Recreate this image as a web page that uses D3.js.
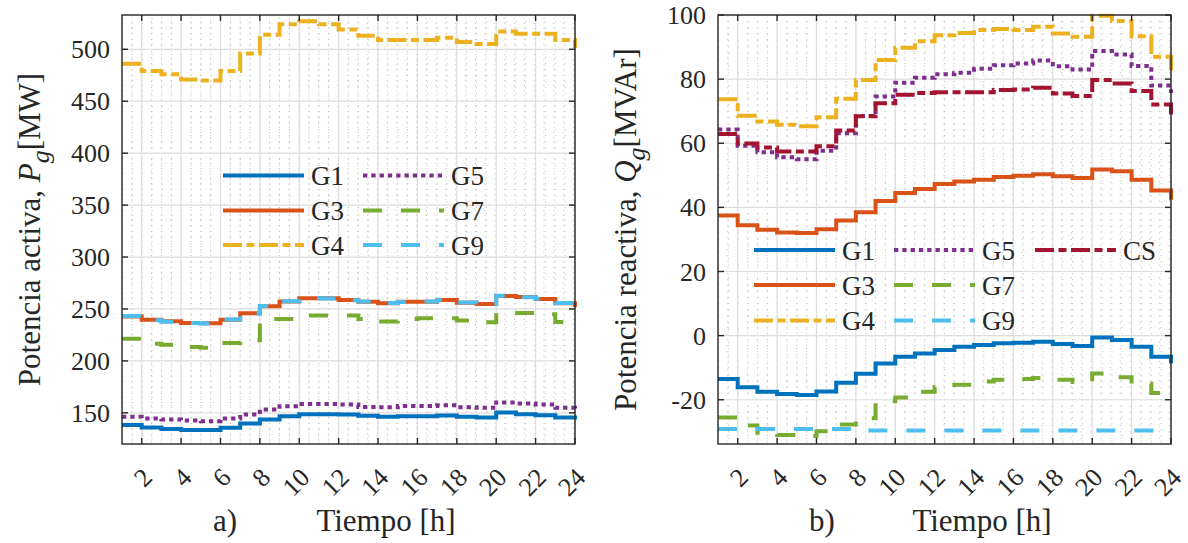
<!DOCTYPE html>
<html>
<head>
<meta charset="utf-8">
<script src="https://cdn.jsdelivr.net/npm/d3@7/dist/d3.min.js"></script>
<style>
  body { margin: 0; background: #ffffff; }
  svg { display: block; }
</style>
</head>
<body>
<svg id="chart" width="1188" height="543"></svg>
<script>
// Hours of the day (stairs are drawn from each hour to the next)
const hours = [1, 2, 3, 4, 5, 6, 7, 8, 9, 10, 11, 12, 13, 14, 15, 16, 17, 18, 19, 20, 21, 22, 23, 24];
const xTicks = [2, 4, 6, 8, 10, 12, 14, 16, 18, 20, 22, 24];

// Active power P_g [MW]
const pG1 = [138.2, 136.0, 134.4, 133.4, 133.4, 135.7, 139.8, 143.6, 146.8, 148.7, 148.7, 148.4, 147.1, 146.2, 146.8, 146.8, 147.5, 146.2, 145.5, 150.3, 148.7, 147.7, 145.5, 143.5];
const pG3 = [242.7, 239.5, 238.2, 236.6, 236.3, 239.5, 245.9, 252.5, 257.3, 260.2, 260.2, 258.6, 257.0, 255.4, 257.0, 257.0, 258.6, 256.0, 254.8, 262.5, 261.5, 259.7, 255.5, 252.0];
const pG4 = [486, 479, 476, 471, 470, 479, 496, 514, 524, 527, 524, 519, 513, 509, 509, 509, 511, 507, 505, 517, 515, 515, 509, 501];
const pG5 = [146.2, 144.6, 143.6, 142.7, 142.0, 144.6, 148.4, 153.2, 156.4, 158.6, 158.6, 158.0, 155.7, 155.4, 156.7, 156.7, 157.3, 155.4, 154.8, 160.0, 159.0, 158.0, 154.8, 153.5];
const pG7 = [221.3, 216.5, 215.6, 213.4, 212.7, 217.2, 220.0, 240.4, 240.4, 243.6, 243.6, 243.6, 240.4, 238.0, 240.4, 241.0, 241.0, 239.0, 237.3, 246.0, 246.0, 245.0, 237.5, 237.0];
const pG9 = [243.2, 239.2, 237.8, 236.4, 236.0, 239.8, 245.5, 252.8, 257.5, 260.5, 260.0, 258.3, 257.2, 255.7, 256.8, 257.2, 258.8, 256.3, 254.5, 262.8, 261.2, 259.8, 255.7, 252.3];
const pTicks = [150, 200, 250, 300, 350, 400, 450, 500];

// Reactive power Q_g [MVAr]
const qG1 = [-13.5, -16.1, -17.5, -18.2, -18.5, -17.4, -14.7, -11.9, -8.7, -6.6, -5.6, -4.5, -3.5, -2.9, -2.4, -2.2, -1.9, -2.6, -3.2, -0.6, -1.4, -3.5, -6.6, -8.7];
const qG3 = [37.5, 34.4, 33.0, 32.2, 32.0, 33.2, 35.9, 38.5, 42.0, 44.5, 45.7, 47.3, 48.1, 48.6, 49.5, 49.9, 50.3, 49.7, 49.2, 51.8, 51.3, 48.6, 45.3, 42.4];
const qG4 = [73.7, 68.6, 66.8, 65.8, 65.3, 68.1, 73.9, 79.7, 86.0, 89.8, 91.8, 93.7, 94.4, 95.3, 95.6, 95.3, 96.3, 94.2, 93.2, 99.8, 98.1, 93.4, 87.0, 82.5];
const qG5 = [64.3, 59.2, 57.2, 55.6, 55.0, 57.7, 63.1, 68.5, 74.6, 78.9, 80.4, 81.5, 82.0, 83.2, 84.3, 84.9, 85.8, 84.0, 83.0, 88.8, 87.7, 84.1, 78.0, 75.7];
const qG7 = [-25.5, -28.0, -30.3, -31.0, -31.3, -29.8, -27.7, -25.8, -20.5, -19.3, -17.5, -16.0, -15.3, -14.3, -13.8, -13.5, -13.2, -13.8, -14.5, -11.8, -13.0, -15.0, -17.9, -18.0];
const qG9 = [-29.1, -29.1, -29.1, -29.1, -29.1, -29.1, -29.1, -29.6, -29.6, -29.6, -29.6, -29.6, -29.6, -29.6, -29.6, -29.6, -29.6, -29.6, -29.6, -29.6, -29.6, -29.6, -29.6, -29.6];
const qCS = [62.9, 59.9, 58.7, 57.4, 57.4, 59.1, 64.0, 68.4, 72.5, 75.1, 75.7, 75.9, 75.9, 75.9, 76.6, 76.8, 77.3, 75.5, 74.7, 79.7, 78.6, 76.3, 72.1, 69.0];
const qTicks = [-20, 0, 20, 40, 60, 80, 100];

// Line styles per unit
const styles = {
  G1: { color: "#0072BD", dash: null },
  G3: { color: "#D95319", dash: null },
  G4: { color: "#EDB120", dash: "19,4.5,8,4.5" },
  G5: { color: "#7E2F8E", dash: "4.3,4" },
  G7: { color: "#77AC30", dash: "19,19" },
  G9: { color: "#4DBEEE", dash: "19,19" },
  CS: { color: "#A2142F", dash: "19,4.5,8,4.5" }
};

const FONT = "'Liberation Serif', 'Times New Roman', serif";
const svg = d3.select("#chart").attr("font-family", FONT);
const LINE_W = 4;
const AX = "#262626";
const TXT = "#262626";

function label(sel) {
  return sel.attr("font-family", FONT).attr("fill", TXT);
}

function drawPanel(cfg) {
  const x = d3.scaleLinear().domain([1, 24]).range([cfg.left, cfg.right]);
  const y = d3.scaleLinear().domain(cfg.yDomain).range([cfg.bottom, cfg.top]);
  const g = svg.append("g");

  // minor grid (dotted)
  const minorX = d3.range(1.5, 24, 0.5).filter(v => v % 2 !== 0);
  const minorY = d3.range(Math.ceil(cfg.yDomain[0] / cfg.minor) * cfg.minor, cfg.yDomain[1], cfg.minor)
    .filter(v => Math.abs(v % cfg.major) > 1e-6 && Math.abs(Math.abs(v % cfg.major) - cfg.major) > 1e-6);
  g.append("g").selectAll("line").data(minorX).join("line")
    .attr("x1", d => x(d)).attr("x2", d => x(d))
    .attr("y1", cfg.top).attr("y2", cfg.bottom)
    .attr("stroke", "#c4c4c4").attr("stroke-width", 1).attr("stroke-dasharray", "1.2,4.8");
  g.append("g").selectAll("line").data(minorY).join("line")
    .attr("x1", cfg.left).attr("x2", cfg.right)
    .attr("y1", d => y(d)).attr("y2", d => y(d))
    .attr("stroke", "#c4c4c4").attr("stroke-width", 1).attr("stroke-dasharray", "1.2,8.6");

  // major grid
  g.append("g").selectAll("line").data(xTicks).join("line")
    .attr("x1", d => x(d)).attr("x2", d => x(d))
    .attr("y1", cfg.top).attr("y2", cfg.bottom)
    .attr("stroke", "#dcdcdc").attr("stroke-width", 1.2);
  g.append("g").selectAll("line").data(cfg.yTicks).join("line")
    .attr("x1", cfg.left).attr("x2", cfg.right)
    .attr("y1", d => y(d)).attr("y2", d => y(d))
    .attr("stroke", "#dcdcdc").attr("stroke-width", 1.2);

  // series as stairs
  const line = d3.line().x((d, i) => x(hours[i])).y(d => y(d)).curve(d3.curveStepAfter);
  cfg.series.forEach(s => {
    const st = styles[s.name];
    g.append("path").datum(s.values)
      .attr("d", line)
      .attr("fill", "none")
      .attr("stroke", st.color)
      .attr("stroke-width", LINE_W)
      .attr("stroke-linejoin", "miter")
      .attr("stroke-dasharray", st.dash);
  });

  // axes box
  g.append("rect")
    .attr("x", cfg.left).attr("y", cfg.top)
    .attr("width", cfg.right - cfg.left).attr("height", cfg.bottom - cfg.top)
    .attr("fill", "none").attr("stroke", AX).attr("stroke-width", 1.4);

  // inward ticks on all four sides
  const TL = 6;
  xTicks.forEach(t => {
    g.append("line").attr("x1", x(t)).attr("x2", x(t)).attr("y1", cfg.bottom).attr("y2", cfg.bottom - TL)
      .attr("stroke", AX).attr("stroke-width", 1.4);
    g.append("line").attr("x1", x(t)).attr("x2", x(t)).attr("y1", cfg.top).attr("y2", cfg.top + TL)
      .attr("stroke", AX).attr("stroke-width", 1.4);
  });
  cfg.yTicks.forEach(t => {
    g.append("line").attr("x1", cfg.left).attr("x2", cfg.left + TL).attr("y1", y(t)).attr("y2", y(t))
      .attr("stroke", AX).attr("stroke-width", 1.4);
    g.append("line").attr("x1", cfg.right).attr("x2", cfg.right - TL).attr("y1", y(t)).attr("y2", y(t))
      .attr("stroke", AX).attr("stroke-width", 1.4);
  });

  // tick labels
  label(g.append("g").selectAll("text").data(xTicks).join("text"))
    .attr("transform", d => `translate(${x(d) + 6},${cfg.bottom + 29}) rotate(-45)`)
    .attr("text-anchor", "end")
    .attr("dominant-baseline", "central")
    .attr("font-size", 26)
    .text(d => d);
  label(g.append("g").selectAll("text").data(cfg.yTicks).join("text"))
    .attr("x", cfg.left - 12).attr("y", d => y(d) + 9)
    .attr("text-anchor", "end")
    .attr("font-size", 26)
    .text(d => d);

  // x label
  label(g.append("text")).attr("x", cfg.left + 91).attr("y", 531)
    .attr("font-size", 31).text(cfg.tag);
  label(g.append("text")).attr("x", cfg.left + 264).attr("y", 531)
    .attr("text-anchor", "middle").attr("font-size", 31).text("Tiempo [h]");

  // y label
  const yl = label(g.append("text"))
    .attr("transform", `translate(${cfg.left - 82},${(cfg.top + cfg.bottom) / 2}) rotate(-90)`)
    .attr("text-anchor", "middle")
    .attr("font-size", 31);
  yl.append("tspan").text(cfg.yLabel[0]);
  yl.append("tspan").attr("font-style", "italic").text(cfg.yLabel[1]);
  yl.append("tspan").attr("font-style", "italic").attr("font-size", 26).attr("dy", 9).text("g");
  yl.append("tspan").attr("dy", -9).text(cfg.yLabel[2]);

  // legend
  cfg.legend.forEach(item => {
    const st = styles[item.name];
    g.append("line")
      .attr("x1", item.x).attr("x2", item.x + 81)
      .attr("y1", item.y).attr("y2", item.y)
      .attr("stroke", st.color).attr("stroke-width", LINE_W)
      .attr("stroke-dasharray", st.dash);
    label(g.append("text")).attr("x", item.x + 88).attr("y", item.y + 9.5)
      .attr("font-size", 27).text(item.name);
  });
}

drawPanel({
  left: 122, right: 575, top: 15, bottom: 444,
  yDomain: [120, 533], yTicks: pTicks, major: 50, minor: 5,
  tag: "a)",
  yLabel: ["Potencia activa, ", "P", "[MW]"],
  series: [
    { name: "G1", values: pG1 }, { name: "G3", values: pG3 }, { name: "G4", values: pG4 },
    { name: "G5", values: pG5 }, { name: "G7", values: pG7 }, { name: "G9", values: pG9 }
  ],
  legend: [
    { name: "G1", x: 223, y: 175.5 }, { name: "G3", x: 223, y: 210.5 }, { name: "G4", x: 223, y: 245 },
    { name: "G5", x: 363, y: 175.5 }, { name: "G7", x: 363, y: 210.5 }, { name: "G9", x: 363, y: 245 }
  ]
});

drawPanel({
  left: 718, right: 1171, top: 15, bottom: 444,
  yDomain: [-33.8, 100], yTicks: qTicks, major: 20, minor: 2,
  tag: "b)",
  yLabel: ["Potencia reactiva, ", "Q", "[MVAr]"],
  series: [
    { name: "G1", values: qG1 }, { name: "G3", values: qG3 }, { name: "G4", values: qG4 },
    { name: "G5", values: qG5 }, { name: "G7", values: qG7 }, { name: "G9", values: qG9 },
    { name: "CS", values: qCS }
  ],
  legend: [
    { name: "G1", x: 754, y: 250 }, { name: "G3", x: 754, y: 285 }, { name: "G4", x: 754, y: 320.5 },
    { name: "G5", x: 894, y: 250 }, { name: "G7", x: 894, y: 285 }, { name: "G9", x: 894, y: 320.5 },
    { name: "CS", x: 1035, y: 250 }
  ]
});
</script>
</body>
</html>
